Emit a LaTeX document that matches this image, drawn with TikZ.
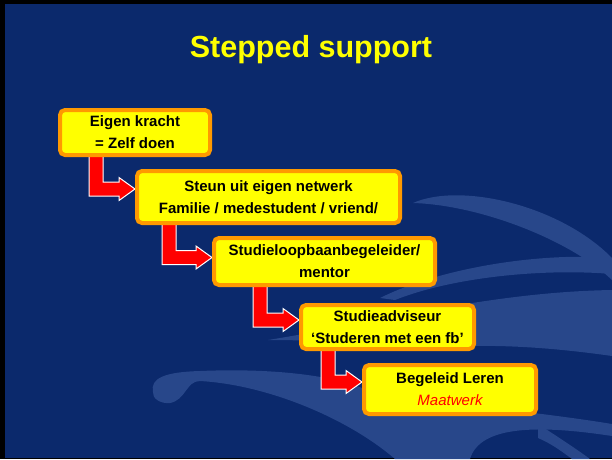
\documentclass[tikz,border=0pt]{standalone}
\usepackage{fontspec}
\setmainfont{Liberation Sans}
\usetikzlibrary{calc}
\definecolor{bgnavy}{RGB}{11,41,108}
\definecolor{wmblue}{RGB}{40,71,138}
\definecolor{boxyellow}{RGB}{255,255,0}
\definecolor{boxorange}{RGB}{255,153,0}
\definecolor{arrred}{RGB}{255,0,0}
\pgfdeclarelayer{back}
\pgfdeclarelayer{arrows}
\pgfsetlayers{back,arrows,main}
\tikzset{
  stepbox/.style={draw=boxorange, line width=4pt, fill=boxyellow, rounded corners=5pt,
    inner sep=0pt, align=center, font=\fontsize{15}{22}\selectfont\bfseries, text=black},
  steparrow/.style={fill=arrred, draw=white, line width=1pt, line join=miter},
  wm/.style={fill=wmblue, draw=none},
  titletext/.style={font=\fontsize{30.5}{36}\selectfont\bfseries, text=boxyellow, anchor=base, inner sep=0pt},
}
% #1 from node, #2 to node, #3 x offset of the vertical shaft, #4 lift of the shaft centre above the target centre
\newcommand{\stepconn}[4]{%
  \draw[steparrow] let \p1=(#1.south west), \p2=(#2.west) in
    (\x1+#3pt,\y1+2pt) -- (\x1+#3pt+14pt,\y1+2pt) -- (\x1+#3pt+14pt,\y2+#4pt+7pt)
    -- (\x2-16pt,\y2+#4pt+7pt) -- (\x2-16pt,\y2+#4pt+11.5pt) -- (\x2,\y2+#4pt)
    -- (\x2-16pt,\y2+#4pt-11.5pt) -- (\x2-16pt,\y2+#4pt-7pt) -- (\x1+#3pt,\y2+#4pt-7pt) -- cycle;}
\begin{document}
\begin{tikzpicture}[x=1pt,y=-1pt]
\useasboundingbox (0,0) rectangle (612,459);
\begin{pgfonlayer}{back}
  \fill[black] (0,0) rectangle (612,459);
  \fill[bgnavy] (5,4) rectangle (612,458);
  % watermark swirls
  \fill[wm] (413,203) .. controls (460,182) and (560,205) .. (612,258) -- (612,280)
    .. controls (570,240) and (480,205) .. (413,203) -- cycle;
  \fill[wm] (380,298) .. controls (440,268) and (540,252) .. (612,258) -- (612,274)
    .. controls (540,268) and (450,278) .. (395,300) -- cycle;
  \fill[wm] (268,340) .. controls (380,322) and (490,292) .. (612,290) -- (612,356)
    .. controls (570,350) and (520,345) .. (470,346) .. controls (400,345) and (330,340) .. (268,340) -- cycle;
  \fill[wm] (153,392) .. controls (150,378) and (165,372) .. (200,371)
    .. controls (270,368) and (330,375) .. (362,388)
    .. controls (450,405) and (540,412) .. (612,424) -- (612,436)
    .. controls (540,425) and (480,425) .. (470,459) -- (395,459)
    .. controls (350,420) and (270,385) .. (200,381)
    .. controls (186,381) and (186,400) .. (170,403)
    .. controls (160,404) and (152,398) .. (153,392) -- cycle;
  \fill[wm] (538,424) .. controls (555,435) and (575,448) .. (590,459) -- (572,459)
    .. controls (560,450) and (550,443) .. (538,438) -- cycle;
\end{pgfonlayer}
\node[titletext] (title) at (311,57) {Stepped support};
\node[stepbox, minimum width=150pt, minimum height=45pt] (b1) at (135,132.5) {Eigen kracht\\= Zelf doen};
\node[stepbox, minimum width=263pt, minimum height=52pt] (b2) at (268.5,197) {Steun uit eigen netwerk\\Familie / medestudent / vriend/};
\node[stepbox, minimum width=221pt, minimum height=47pt] (b3) at (324.5,261.5) {Studieloopbaanbegeleider/\\mentor};
\node[stepbox, minimum width=173pt, minimum height=44pt] (b4) at (387.5,327) {Studieadviseur\\‘Studeren met een fb’};
\node[stepbox, minimum width=172pt, minimum height=49pt] (b5) at (450,389.5) {Begeleid Leren\\{\color{arrred}\mdseries\itshape Maatwerk}};
\begin{pgfonlayer}{arrows}
  \stepconn{b1}{b2}{31}{8}
  \stepconn{b2}{b3}{27}{4}
  \stepconn{b3}{b4}{41}{7}
  \stepconn{b4}{b5}{22}{7.5}
\end{pgfonlayer}
\end{tikzpicture}
\end{document}
